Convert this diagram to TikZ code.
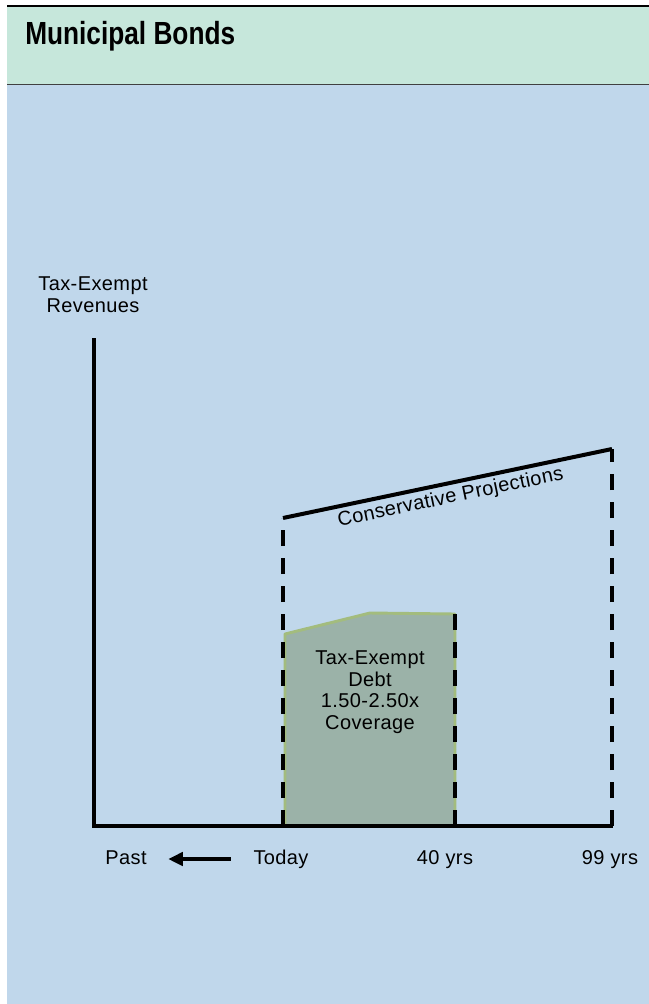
\documentclass[tikz,border=0pt]{standalone}
\usepackage{fontspec}
\setmainfont{Liberation Sans}
\newfontfamily\labelfont[LetterSpace=2]{Liberation Sans}
\usetikzlibrary{arrows.meta}

\definecolor{headgreen}{HTML}{C6E7DB}
\definecolor{panelblue}{HTML}{C0D7EB}
\definecolor{debtfill}{HTML}{9BB2A8}
\definecolor{debtedge}{HTML}{A3BC7E}

\begin{document}
\begin{tikzpicture}[x=0.75pt,y=-0.75pt,
  lbl/.style={font=\labelfont\fontsize{15}{16.2}\selectfont, inner sep=0pt, align=center},
  ticklbl/.style={lbl, text height=10.8pt, text depth=3pt},
  axis/.style={line width=3pt, line join=miter},
  guide/.style={line width=2.6pt, dash pattern=on 12pt off 9pt},
  ]
\useasboundingbox (0,0) rectangle (649,1004);

% header band and panel
\fill[panelblue] (7,84) rectangle (649,1004);
\fill[headgreen] (7,7) rectangle (649,84);
\draw[line width=2.2pt] (7,6) -- (649,6);
\draw[line width=1.2pt, black!75] (7,84.5) -- (649,84.5);
\node[anchor=base west, inner sep=0pt] (title) at (25,44)
  {\scalebox{0.82}[1]{\bfseries\fontsize{24}{28}\selectfont Municipal Bonds}};

% reference points
\coordinate (origin) at (94,826);
\coordinate (ytop) at (94,338);
\coordinate (xend) at (613,826);
\coordinate (today) at (283,826);
\coordinate (forty) at (455,826);
\coordinate (ninetynine) at (612,826);
\coordinate (projA) at (283,518);
\coordinate (projB) at (612,449);
\coordinate (debtA) at (285,634);
\coordinate (debtB) at (370,613);
\coordinate (debtC) at (455,614);

% debt block
\filldraw[fill=debtfill, draw=debtedge, line width=2.2pt, line join=round]
  (285,826) -- (debtA) -- (debtB) -- (debtC) -- (forty) -- cycle;
\node[lbl] (debt) at (370,692) {Tax-Exempt\\Debt\\1.50-2.50x\\Coverage};

% dashed guides
\draw[guide] (today) -- (projA);
\draw[guide] (forty) -- (debtC);
\draw[guide] (ninetynine) -- (projB);

% projection line
\draw[axis] (projA) -- (projB)
  node[midway, below=2.5pt, sloped, lbl] (proj) {Conservative Projections};

% axes
\draw[axis] (ytop) -- (origin) -- (xend);
\node[lbl] (yaxis) at (93,295) {Tax-Exempt\\Revenues};

% time labels
\node[ticklbl] (past) at (126,859) {Past};
\node[ticklbl] (todaylbl) at (281,859) {Today};
\node[ticklbl] (fortylbl) at (445,859) {40 yrs};
\node[ticklbl] (ninetyninelbl) at (610,859) {99 yrs};
\draw[line width=2.6pt, -{Triangle[length=11pt,width=10pt]},
      shorten <=17pt, shorten >=16pt] (todaylbl.west) -- (past.east);
\end{tikzpicture}
\end{document}
